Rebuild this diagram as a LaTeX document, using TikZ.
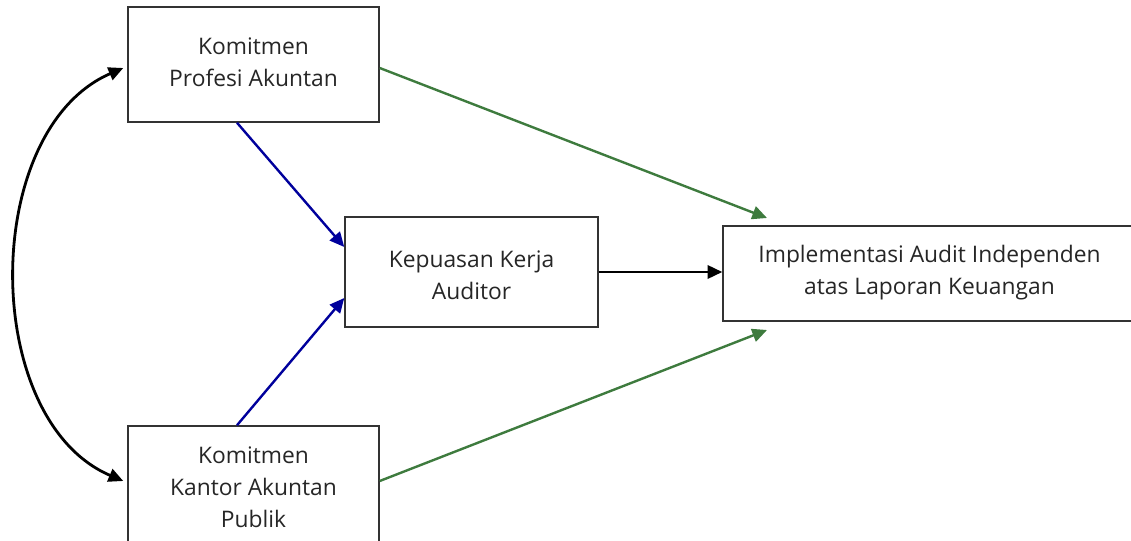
\documentclass[tikz,border=0pt]{standalone}
\usepackage{fontspec}
\setmainfont{Open Sans}
\usetikzlibrary{arrows.meta,calc}
\definecolor{boxline}{HTML}{333333}
\definecolor{txt}{HTML}{262626}
\definecolor{grn}{HTML}{3E7B3E}
\definecolor{blu}{HTML}{00009C}
\tikzset{
  box/.style={draw=boxline, line width=1.1pt, rectangle, align=center, inner sep=0pt,
    font=\fontsize{17.1pt}{23.9pt}\selectfont, text=txt},
  tip/.style={-{Triangle[length=11pt,width=10pt]}},
  garrow/.style={tip, draw=grn, line width=1.8pt},
  barrow/.style={tip, draw=blu, line width=1.8pt},
  karrow/.style={tip, draw=black, line width=1.8pt},
  carrow/.style={{Triangle[length=11pt,width=10pt]}-{Triangle[length=11pt,width=10pt]}, draw=black, line width=2.1pt},
}
\begin{document}
\begin{tikzpicture}[x=0.75pt,y=-0.75pt]
\useasboundingbox (0,0) rectangle (1131,541);
\clip (0,0) rectangle (1131,541);
\node[box, minimum width=251*0.75pt, minimum height=115*0.75pt] (b1) at (253.5,64.5) {};
\node[box, minimum width=253*0.75pt, minimum height=110*0.75pt] (b2) at (471.5,272) {};
\node[box, minimum width=413*0.75pt, minimum height=95*0.75pt] (b3) at (929.5,273.5) {};
\node[box, minimum width=251*0.75pt, minimum height=121*0.75pt] (b4) at (253.5,486.5) {};
\node[box, draw=none] (t1) at (253.5,62) {Komitmen\\Profesi Akuntan};
\node[box, draw=none] (t2) at (471.5,275) {Kepuasan Kerja\\Auditor};
\node[box, draw=none] (t3) at (929.5,273) {Implementasi Audit Independen\\atas Laporan Keuangan};
\node[box, draw=none] (t4) at (253.5,487) {Komitmen\\Kantor Akuntan\\Publik};
\coordinate (g1) at (767,218);
\coordinate (g2) at (767,330);
\draw[garrow] (b1.east |- 0,68) -- (g1);
\draw[garrow] (b4.east |- 0,481) -- (g2);
\draw[barrow] (b1.south -| 237,0) -- (b2.west |- 0,247);
\draw[barrow] (b4.north -| 237,0) -- (b2.west |- 0,298);
\draw[karrow] (b2.east) -- (b3.west |- b2.east);
\draw[carrow] ($(b1.west |- 0,68)+(-4,0)$) .. controls (-20,130) and (-20,420) .. ($(b4.west |- 0,481)+(-4,0)$);
\end{tikzpicture}
\end{document}
